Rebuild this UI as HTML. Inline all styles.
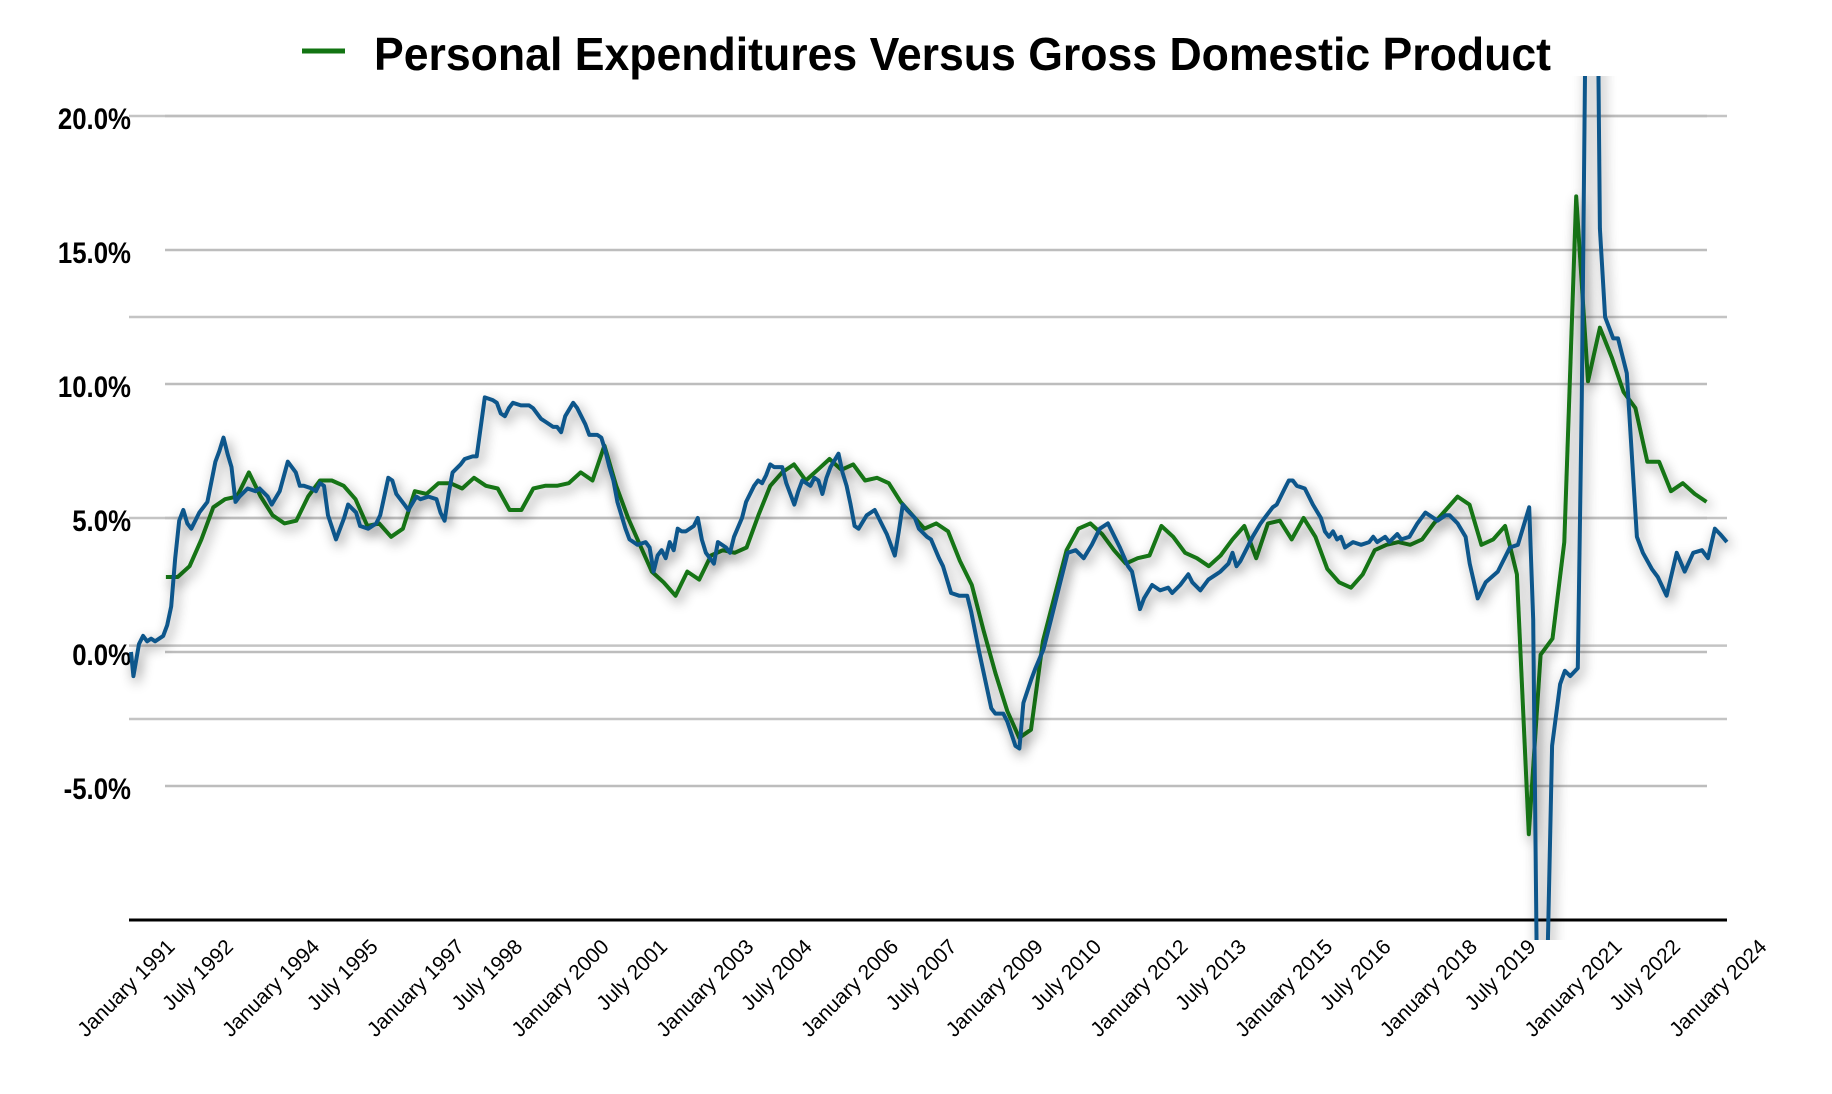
<!DOCTYPE html>
<html><head><meta charset="utf-8"><title>Personal Expenditures Versus Gross Domestic Product</title>
<style>
html,body{margin:0;padding:0;background:#fff;}
svg{display:block;font-family:"Liberation Sans",Arial,sans-serif;}
</style></head>
<body>
<svg id="chart" width="1832" height="1094" viewBox="0 0 1832 1094">
  <defs>
    <filter id="shadow" x="-10%" y="-20%" width="120%" height="140%">
      <feDropShadow dx="3" dy="5" stdDeviation="6" flood-color="#000" flood-opacity="0.45"/>
    </filter>
    <clipPath id="plotclip"><rect x="120" y="76" width="1640" height="864"/></clipPath>
  </defs>
  <g id="grid"></g>
  <g id="ylabels"></g>
  <line x1="129" y1="920" x2="1727" y2="920" stroke="#000" stroke-width="3"/>
  <g id="xlabels"></g>
  <g clip-path="url(#plotclip)">
    <path id="greenLine" fill="none" stroke="#127412" stroke-width="4" stroke-linejoin="round" filter="url(#shadow)"/>
    <path id="blueLine" fill="none" stroke="#0d568b" stroke-width="4" stroke-linejoin="round" filter="url(#shadow)"/>
  </g>
  <g>
    <line x1="302" y1="51" x2="345" y2="51" stroke="#127412" stroke-width="5"/>
    <text x="374" y="70" font-size="46" font-weight="bold" textLength="1177" lengthAdjust="spacingAndGlyphs" fill="#000">Personal Expenditures Versus Gross Domestic Product</text>
  </g>
</svg>
<script>
const yTicks = [20, 15, 10, 5, 0, -5];
const yTickLabels = ["20.0%", "15.0%", "10.0%", "5.0%", "0.0%", "-5.0%"];
const secondaryGrid = [20, 12.5, 5, 0.24, -2.5];
const xLabelMonths = [0,18,36,54,72,90,108,126,144,162,180,198,216,234,252,270,288,306,324,342,360,378,396];
const xLabelText = ["January 1991","July 1992","January 1994","July 1995","January 1997","July 1998","January 2000","July 2001","January 2003","July 2004","January 2006","July 2007","January 2009","July 2010","January 2012","July 2013","January 2015","July 2016","January 2018","July 2019","January 2021","July 2022","January 2024"];

const blueMonths = [0,0.6,2,3,4,5,6,8,9,10,11,12,13,14,15,16,17,19,21,22,23,24,25,26,27,29,31,32,34,35,37,39,41,42,43,45,46,47,48,49,51,53,54,56,57,59,61,62,64,65,66,68,69,71,72,74,76,77,78,79,80,82,83,85,86,88,90,91,92,93,94,95,97,99,100,102,103,105,106,107,108,110,111,113,114,115,116,117,118,119,120,121,123,124,126,128,129,130,131,132,133,134,135,136,137,138,140,141,142,143,145,146,148,149,150,152,153,155,156,157,158,159,160,162,163,165,166,167,169,170,171,172,173,174,176,177,178,179,180,181,183,185,186,187,188,190,191,192,193,195,196,198,199,201,202,204,206,208,209,211,214,215,217,218,220,221,222,224,225,227,229,231,233,235,237,239,241,243,244,246,248,249,251,252,254,256,258,259,261,263,264,266,268,270,271,273,274,275,276,278,279,281,282,284,285,286,287,288,289,290,292,293,294,296,297,298,299,300,301,302,304,306,308,309,310,312,313,315,316,318,320,322,323,325,327,328,330,332,333,335,337,340,343,345,347.8,348.8,350,352.3,353.5,355.5,356.7,358,359.9,360.9,362.2,364.7,365.4,366.7,368.7,369.9,372.1,374.6,376.1,378.3,379.8,382,384.5,386.5,388.6,390.8,392.3,394,395.3,397];
const blueValues = [0.0,-0.9,0.3,0.6,0.4,0.5,0.4,0.6,1.0,1.7,3.5,4.9,5.3,4.8,4.6,4.9,5.2,5.6,7.1,7.5,8.0,7.4,6.9,5.6,5.8,6.1,6.0,6.1,5.8,5.5,6.0,7.1,6.7,6.2,6.2,6.1,6.0,6.3,6.2,5.1,4.2,5.0,5.5,5.2,4.7,4.6,4.8,5.1,6.5,6.4,5.9,5.5,5.3,5.8,5.7,5.8,5.7,5.2,4.9,5.9,6.7,7.0,7.2,7.3,7.3,9.5,9.4,9.3,8.9,8.8,9.1,9.3,9.2,9.2,9.1,8.7,8.6,8.4,8.4,8.2,8.8,9.3,9.1,8.5,8.1,8.1,8.1,8.0,7.5,6.9,6.4,5.6,4.6,4.2,4.0,4.1,3.9,3.0,3.6,3.8,3.5,4.1,3.8,4.6,4.5,4.5,4.7,5.0,4.2,3.7,3.3,4.1,3.9,3.7,4.3,5.0,5.6,6.2,6.4,6.3,6.6,7.0,6.9,6.9,6.3,5.5,6.0,6.4,6.2,6.5,6.4,5.9,6.5,6.9,7.4,6.7,6.2,5.5,4.7,4.6,5.1,5.3,5.0,4.7,4.4,3.6,4.5,5.5,5.3,5.0,4.6,4.3,4.2,3.5,3.2,2.2,2.1,2.1,1.5,0.0,-2.1,-2.3,-2.3,-2.6,-3.5,-3.6,-1.9,-1.0,-0.6,0.1,1.3,2.5,3.7,3.8,3.5,4.0,4.6,4.8,4.5,3.9,3.2,3.0,1.6,2.0,2.5,2.3,2.4,2.2,2.5,2.9,2.6,2.3,2.7,2.9,3.0,3.3,3.7,3.2,3.4,4.0,4.3,4.8,5.0,5.4,5.5,5.8,6.1,6.4,6.4,6.2,6.1,5.8,5.5,5.0,4.5,4.3,4.5,4.2,4.3,3.9,4.1,4.0,4.1,4.3,4.1,4.3,4.1,4.4,4.2,4.3,4.8,5.2,5.1,4.9,5.1,5.1,4.8,4.3,3.3,2.0,2.6,3.0,3.9,4.0,5.4,1.2,-16,-12,-3.5,-1.2,-0.7,-0.9,-0.6,9.5,29,27,15.8,12.5,11.7,11.7,10.4,4.3,3.7,3.1,2.8,2.1,3.7,3.0,3.7,3.8,3.5,4.6,4.4,4.1];

const greenStart = 8.68;
const greenStep = 2.948;
const greenValues = [2.8,2.8,3.2,4.2,5.4,5.7,5.8,6.7,5.8,5.1,4.8,4.9,5.8,6.4,6.4,6.2,5.7,4.7,4.8,4.3,4.6,6.0,5.9,6.3,6.3,6.1,6.5,6.2,6.1,5.3,5.3,6.1,6.2,6.2,6.3,6.7,6.4,7.7,6.2,5.0,4.0,3.0,2.6,2.1,3.0,2.7,3.6,3.8,3.7,3.9,5.1,6.2,6.7,7.0,6.4,6.8,7.2,6.8,7.0,6.4,6.5,6.3,5.6,5.1,4.6,4.8,4.5,3.4,2.5,0.8,-0.8,-2.2,-3.2,-2.9,0.4,2.1,3.8,4.6,4.8,4.4,3.8,3.3,3.5,3.6,4.7,4.3,3.7,3.5,3.2,3.6,4.2,4.7,3.5,4.8,4.9,4.2,5.0,4.3,3.1,2.6,2.4,2.9,3.8,4.0,4.1,4.0,4.2,4.8,5.3,5.8,5.5,4.0,4.2,4.7,2.9,-6.8,-0.1,0.5,4.1,17.0,10.1,12.1,11.0,9.7,9.1,7.1,7.1,6.0,6.3,5.9,5.6];

const NS = "http://www.w3.org/2000/svg";
function xScale(m){ return 131 + m * 4.02; }
function yScale(v){ return 652 - v * 26.8; }

const grid = document.getElementById('grid');
secondaryGrid.forEach(v => {
  const l = document.createElementNS(NS, 'line');
  l.setAttribute('x1', 129); l.setAttribute('x2', 1727);
  l.setAttribute('y1', yScale(v)); l.setAttribute('y2', yScale(v));
  l.setAttribute('stroke', '#c4c4c4'); l.setAttribute('stroke-width', 2.5);
  
  
  grid.appendChild(l);
});
yTicks.forEach(v => {
  const l = document.createElementNS(NS, 'line');
  l.setAttribute('x1', 165); l.setAttribute('x2', 1707);
  l.setAttribute('y1', yScale(v)); l.setAttribute('y2', yScale(v));
  l.setAttribute('stroke', '#bdbdbd'); l.setAttribute('stroke-width', 2.5);
  
  
  grid.appendChild(l);
});
const yl = document.getElementById('ylabels');
yTicks.forEach((v, i) => {
  const t = document.createElementNS(NS, 'text');
  const y = yScale(v) + 13;
  t.setAttribute('x', 131); t.setAttribute('y', y);
  t.setAttribute('text-anchor', 'end');
  t.setAttribute('font-size', 30); t.setAttribute('font-weight', 'bold');
  t.setAttribute('transform', `translate(131 0) scale(0.86 1) translate(-131 0)`);
  t.textContent = yTickLabels[i];
  
  
  yl.appendChild(t);
});
const xl = document.getElementById('xlabels');
xLabelMonths.forEach((m, i) => {
  const isJan = xLabelText[i].startsWith('January');
  const x = xScale(m) + (isJan ? 45 : 31);
  const y = 948;
  const t = document.createElementNS(NS, 'text');
  t.setAttribute('x', x); t.setAttribute('y', y);
  t.setAttribute('text-anchor', 'end');
  t.setAttribute('font-size', 21);
  t.setAttribute('transform', `rotate(-45 ${x} ${y})`);
  t.textContent = xLabelText[i];
  
  
  xl.appendChild(t);
});
function pathFrom(ms, vs){
  return ms.map((m, i) => (i ? 'L' : 'M') + xScale(m).toFixed(1) + ' ' + yScale(vs[i]).toFixed(1)).join(' ');
}
document.getElementById('blueLine').setAttribute('d', pathFrom(blueMonths, blueValues));
const greenMonths = greenValues.map((v, i) => greenStart + i * greenStep);
document.getElementById('greenLine').setAttribute('d', pathFrom(greenMonths, greenValues));
</script>
</body></html>
